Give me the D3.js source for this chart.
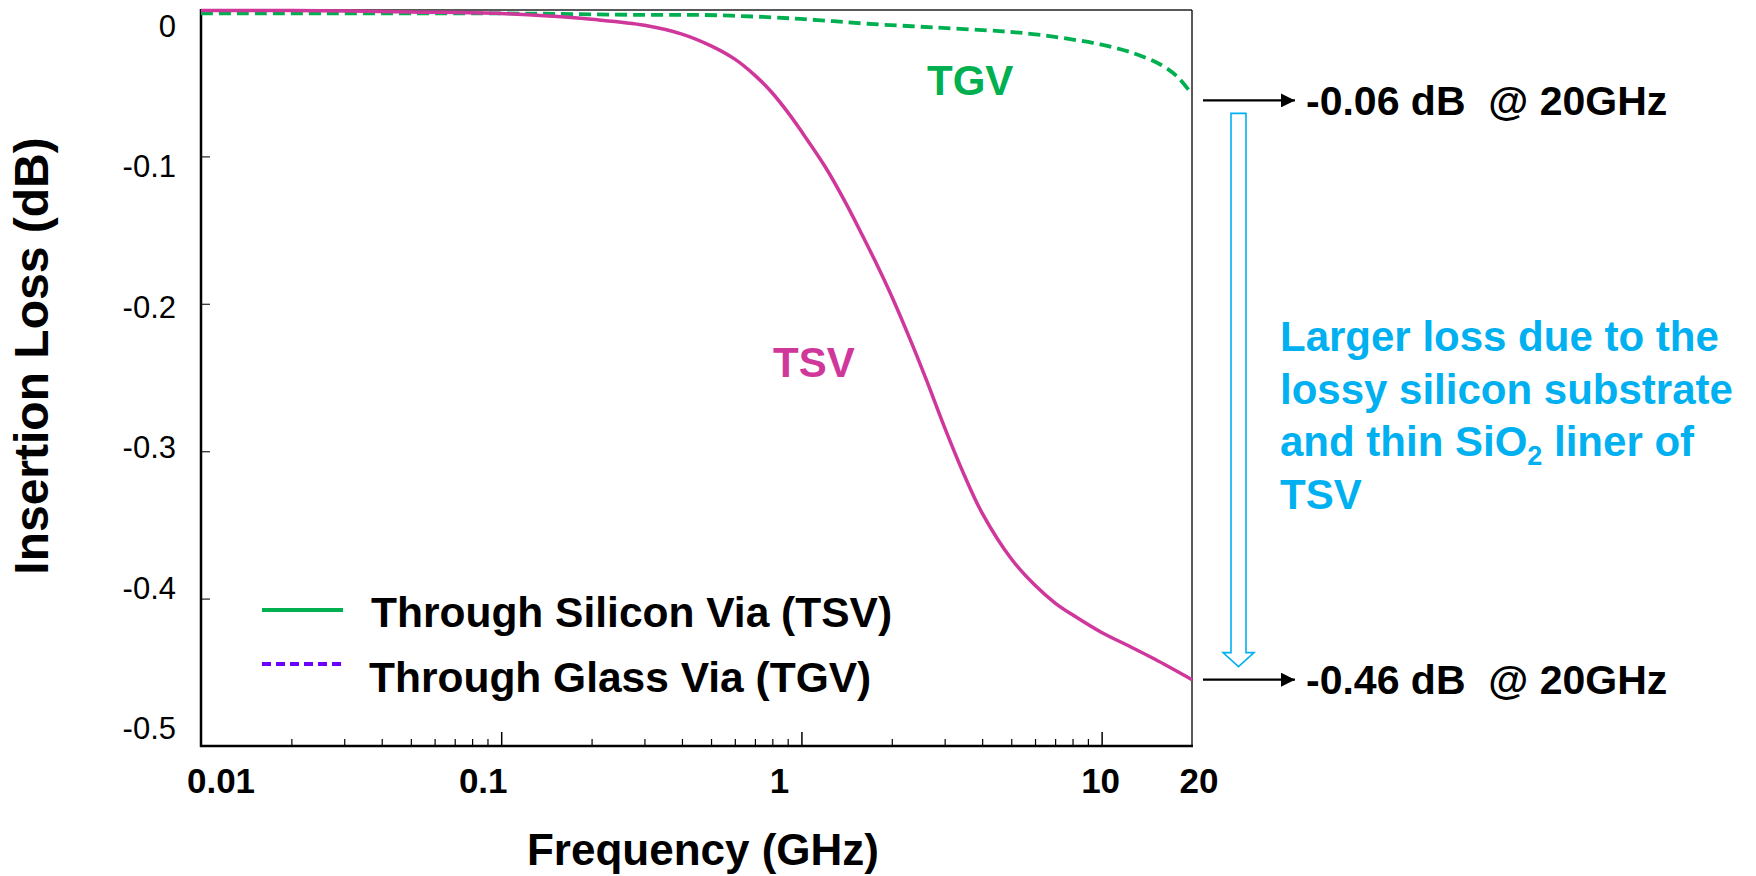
<!DOCTYPE html>
<html>
<head>
<meta charset="utf-8">
<script src="https://cdn.jsdelivr.net/npm/d3@7"></script>
<style>
  html, body { margin: 0; padding: 0; background: #fff; }
  svg { display: block; font-family: "Liberation Sans", Arial, Helvetica, sans-serif; }
</style>
</head>
<body>
<svg id="chart" width="1756" height="876"></svg>
<script>
// ---------------- data ----------------
const tsvFreq = [0.01, 0.02, 0.05, 0.1, 0.15, 0.2, 0.3, 0.4, 0.5, 0.6, 0.7, 0.8, 0.9, 1.0, 1.2, 1.4, 1.6, 1.8, 2.0, 2.3, 2.6, 3.0, 3.5, 4.0, 5.0, 6.0, 7.0, 8.0, 10, 12, 15, 20];
const tsvLoss = [-0.001, -0.001, -0.002, -0.003, -0.005, -0.007, -0.011, -0.017, -0.025, -0.034, -0.045, -0.057, -0.070, -0.083, -0.107, -0.131, -0.154, -0.175, -0.195, -0.224, -0.251, -0.284, -0.317, -0.342, -0.373, -0.391, -0.403, -0.411, -0.423, -0.431, -0.441, -0.455];
const tgvFreq = [0.01, 0.1, 0.3, 0.46, 0.77, 1.13, 1.66, 2.75, 4.57, 5.9, 7.6, 9.9, 12.8, 15.8, 17.9, 20];
const tgvLoss = [-0.003, -0.003, -0.004, -0.004, -0.0055, -0.0075, -0.010, -0.0125, -0.015, -0.017, -0.020, -0.024, -0.030, -0.038, -0.046, -0.058];
const yTickValues = [0, -0.1, -0.2, -0.3, -0.4, -0.5];
const yTickLabels = ["0", "-0.1", "-0.2", "-0.3", "-0.4", "-0.5"];
const xTickValues = [0.01, 0.1, 1, 10, 20];
const xTickLabels = ["0.01", "0.1", "1", "10", "20"];
const legendLabels = ["Through Silicon Via (TSV)", "Through Glass Via (TGV)"];
const seriesLabels = ["TSV", "TGV"];
const annotationValues = [-0.062, -0.455];
const annotationLabels = ["-0.06 dB\u00a0\u00a0@ 20GHz", "-0.46 dB\u00a0\u00a0@ 20GHz"];
const noteLines = ["Larger loss due to the", "lossy silicon substrate", "and thin SiO|2| liner of", "TSV"];

// ---------------- layout ----------------
const svg = d3.select("#chart");
const L = 201, R = 1192, T = 9, B = 746;
const x = d3.scaleLog().domain([0.01, 20]).range([L, R]);
const y = d3.scaleLinear().domain([-0.5, 0]).range([B, T]);
const yLabelPos = d3.scaleLinear().domain([0, -0.5]).range([26, 728.5]);
const xLabelNudge = [20, -18, -22, -1, 7];

const MAGENTA = "#cf379b", GREEN = "#00b050", PURPLE = "#6a00ff", BLUE = "#00b0f0";

svg.append("rect").attr("width", 1756).attr("height", 876).attr("fill", "#fff");

// minor / major x ticks
const minor = [];
[0.01, 0.1, 1, 10].forEach(d => { for (let k = 2; k <= 9; k++) { const v = k * d; if (v < 20) minor.push(v); } });
svg.append("g").attr("transform", `translate(0,${B})`)
  .call(d3.axisBottom(x).tickValues(minor).tickSize(-7).tickFormat(""))
  .call(g => g.select(".domain").remove())
  .call(g => g.selectAll("line").attr("stroke", "#000").attr("stroke-width", 1.2));
svg.append("g").attr("transform", `translate(0,${B})`)
  .call(d3.axisBottom(x).tickValues([0.1, 1, 10]).tickSize(-14).tickFormat(""))
  .call(g => g.select(".domain").remove())
  .call(g => g.selectAll("line").attr("stroke", "#000").attr("stroke-width", 1.5));
svg.append("g").attr("transform", `translate(${L},0)`)
  .call(d3.axisLeft(y).tickValues([-0.1, -0.2, -0.3, -0.4]).tickSize(-9).tickFormat(""))
  .call(g => g.select(".domain").remove())
  .call(g => g.selectAll("line").attr("stroke", "#333").attr("stroke-width", 1.3));

// frame
svg.append("line").attr("x1", L).attr("x2", R).attr("y1", T + 1).attr("y2", T + 1).attr("stroke", "#222").attr("stroke-width", 1.5);
svg.append("line").attr("x1", R).attr("x2", R).attr("y1", T + 1).attr("y2", B).attr("stroke", "#222").attr("stroke-width", 1.5);
svg.append("line").attr("x1", L).attr("x2", L).attr("y1", T).attr("y2", B + 1).attr("stroke", "#000").attr("stroke-width", 2.5);
svg.append("line").attr("x1", L - 1).attr("x2", R + 1).attr("y1", B).attr("y2", B).attr("stroke", "#000").attr("stroke-width", 2.5);

// tick labels
svg.append("g").selectAll("text").data(yTickValues).join("text")
  .attr("x", 176).attr("y", d => yLabelPos(d)).attr("dy", "0.35em")
  .attr("text-anchor", "end").attr("font-size", 31).attr("fill", "#000")
  .text((d, i) => yTickLabels[i]);
svg.append("g").selectAll("text").data(xTickValues).join("text")
  .attr("x", (d, i) => x(d) + xLabelNudge[i]).attr("y", 793)
  .attr("text-anchor", "middle").attr("font-size", 35).attr("font-weight", "bold").attr("fill", "#000")
  .text((d, i) => xTickLabels[i]);

// axis titles
svg.append("text").attr("x", 703).attr("y", 865).attr("text-anchor", "middle")
  .attr("font-size", 44).attr("font-weight", "bold").text("Frequency (GHz)");
svg.append("text").attr("transform", "translate(48,356) rotate(-90)").attr("text-anchor", "middle")
  .attr("font-size", 48).attr("font-weight", "bold").text("Insertion Loss (dB)");

// series
const line = d3.line().x(d => x(d[0])).y(d => y(d[1])).curve(d3.curveCatmullRom.alpha(0.5));
svg.append("path").datum(d3.zip(tgvFreq, tgvLoss)).attr("d", line)
  .attr("fill", "none").attr("stroke", GREEN).attr("stroke-width", 3.8).attr("stroke-dasharray", "12,6");
svg.append("path").datum(d3.zip(tsvFreq, tsvLoss)).attr("d", line)
  .attr("fill", "none").attr("stroke", MAGENTA).attr("stroke-width", 3.5);

// series labels
svg.append("text").attr("x", 773).attr("y", 377).attr("font-size", 42).attr("font-weight", "bold")
  .attr("fill", MAGENTA).text(seriesLabels[0]);
svg.append("text").attr("x", 927).attr("y", 95).attr("font-size", 42).attr("font-weight", "bold")
  .attr("fill", GREEN).text(seriesLabels[1]);

// legend
const lg = svg.append("g");
[[610, GREEN, null, 627, 371], [664, PURPLE, "9,5", 692, 369]].forEach((r, i) => {
  lg.append("line").attr("x1", 262).attr("x2", 343).attr("y1", r[0]).attr("y2", r[0])
    .attr("stroke", r[1]).attr("stroke-width", 4).attr("stroke-dasharray", r[2]);
  lg.append("text").attr("x", r[4]).attr("y", r[3]).attr("font-size", 42.5).attr("font-weight", "bold")
    .text(legendLabels[i]);
});

// annotation arrows
svg.append("defs").append("marker").attr("id", "ah").attr("viewBox", "0 0 10 10")
  .attr("refX", 10).attr("refY", 5)
  .attr("markerUnits", "userSpaceOnUse").attr("orient", "auto")
  .attr("markerWidth", 16).attr("markerHeight", 14)
  .append("path").attr("d", "M0,0 L10,5 L0,10 Z").attr("fill", "#000");
annotationValues.forEach((v, i) => {
  const yy = y(v);
  svg.append("line").attr("x1", 1203).attr("x2", 1295).attr("y1", yy).attr("y2", yy)
    .attr("stroke", "#000").attr("stroke-width", 2.2).attr("marker-end", "url(#ah)");
  svg.append("text").attr("x", 1306).attr("y", yy + 14.5).attr("font-size", 41).attr("font-weight", "bold")
    .text(annotationLabels[i]);
});

// hollow blue arrow
const aTop = y(annotationValues[0]) + 13, aTip = y(annotationValues[1]) - 13;
const p = d3.path();
p.moveTo(1231, aTop); p.lineTo(1246, aTop); p.lineTo(1246, aTip - 14); p.lineTo(1254, aTip - 14);
p.lineTo(1238.5, aTip); p.lineTo(1223, aTip - 14); p.lineTo(1231, aTip - 14); p.closePath();
svg.append("path").attr("d", p.toString()).attr("fill", "#fff").attr("stroke", BLUE).attr("stroke-width", 1.6);

// blue note
const note = svg.append("g").attr("fill", BLUE).attr("font-size", 42).attr("font-weight", "bold");
noteLines.forEach((s, i) => {
  const t = note.append("text").attr("x", 1280).attr("y", 351 + i * 52.5);
  s.split("|").forEach((part, j) => {
    if (j % 2 === 1) t.append("tspan").attr("font-size", 27).attr("dy", 9).text(part);
    else t.append("tspan").attr("dy", j > 0 ? -9 : 0).text(part);
  });
});
</script>
</body>
</html>
